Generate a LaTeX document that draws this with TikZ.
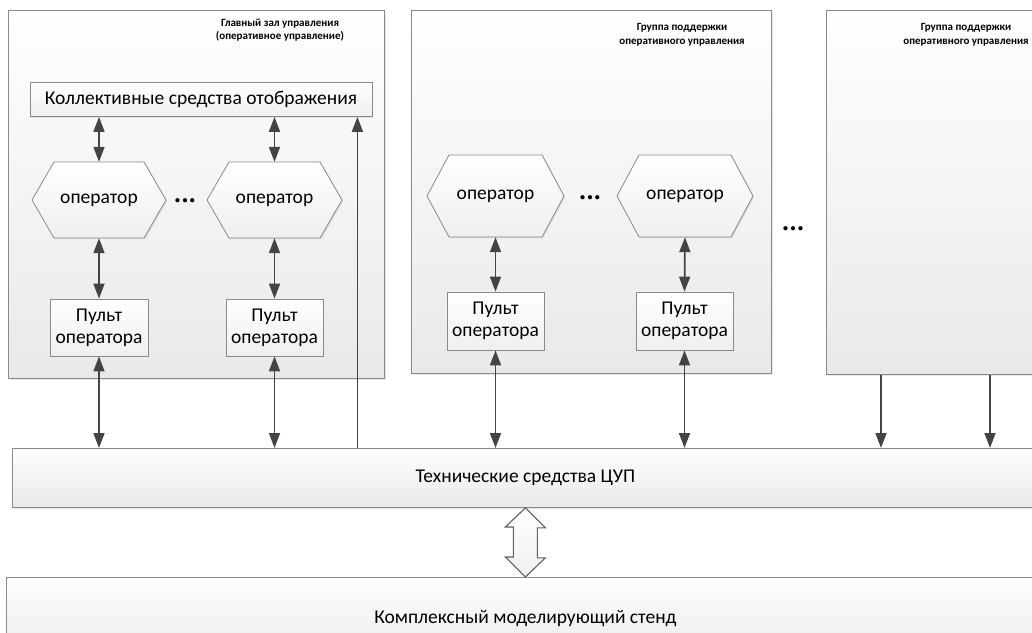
\documentclass[tikz,border=0pt]{standalone}
\usepackage{fontspec}
\setmainfont{Carlito}
\usetikzlibrary{arrows.meta,shadows,calc}

\definecolor{edge}{HTML}{8A8A8A}
\definecolor{ink}{HTML}{444444}
\definecolor{shadelo}{HTML}{E9E9E9}
\definecolor{shadein}{HTML}{EFEFEF}

% hexagon "operator" block: name, centre x, centre y, half width, half height
\newcommand\hexop[5]{%
  \path[hexfill] (#2-#4,#3) -- (#2-#4+22,#3-#5) -- (#2+#4-22,#3-#5)
    -- (#2+#4,#3) -- (#2+#4-22,#3+#5) -- (#2-#4+22,#3+#5) -- cycle;
  \node[optext, minimum width=2*#4, minimum height=2*#5] (#1) at (#2,#3) {оператор};}

\begin{document}
\begin{tikzpicture}[x=1pt,y=-1pt,
  panel/.style={draw=edge, line width=0.8pt, top color=white, bottom color=shadelo,
    inner sep=0pt, anchor=north west,
    drop shadow={shadow xshift=1.5pt, shadow yshift=-1.5pt, opacity=0.18}},
  box/.style={draw=edge, line width=0.8pt, top color=white, bottom color=shadein,
    inner sep=2pt, align=center, font=\fontsize{19.5}{22}\selectfont,
    drop shadow={shadow xshift=1.2pt, shadow yshift=-1.2pt, opacity=0.18}},
  hexfill/.style={draw=edge, line width=0.8pt, top color=white, bottom color=shadein,
    drop shadow={shadow xshift=1.2pt, shadow yshift=-1.2pt, opacity=0.18}},
  optext/.style={inner sep=0pt, font=\fontsize{19.5}{22}\selectfont},
  heading/.style={align=center, font=\bfseries\fontsize{11}{13.5}\selectfont},
  bigtext/.style={font=\fontsize{19.5}{22}\selectfont},
  more/.style={font=\bfseries\fontsize{10}{10}\selectfont, inner sep=0pt},
  dlink/.style={draw=ink, line width=1.7pt,
    {Triangle[length=15pt,width=11pt]}-{Triangle[length=15pt,width=11pt]}},
  slink/.style={draw=ink, line width=1.7pt, -{Triangle[length=15pt,width=11pt]}},
  hollow/.style={draw=ink!85, line width=1.1pt, top color=white, bottom color=shadein}
]
\useasboundingbox (0,0) rectangle (1032,632);
\clip (0,0) rectangle (1032,632);

% three rooms
\node[panel, minimum width=376, minimum height=368] (hall) at (8,10) {};
\node[panel, minimum width=360, minimum height=363] (grpA) at (411,10) {};
\node[panel, minimum width=230, minimum height=364] (grpB) at (826,10) {};

\node[heading] (hallT) at (280,30) {Главный зал управления\\(оперативное управление)};
\node[heading] (grpAT) at (682,35) {Группа поддержки\\оперативного управления};
\node[heading] (grpBT) at (966,35) {Группа поддержки\\оперативного управления};

% main hall
\node[box, minimum width=342, minimum height=34] (disp) at (201,99.5) {Коллективные средства отображения};
\hexop{op1}{99}{200}{67}{38}
\hexop{op2}{274.5}{200}{67.5}{38}
\node[more] (dotsA) at (185,201) {•\hspace{2.5pt}•\hspace{2.5pt}•};
\node[box, minimum width=98, minimum height=57] (pu1) at (99,327.5) {Пульт\\оператора};
\node[box, minimum width=97, minimum height=57] (pu2) at (274.5,327.5) {Пульт\\оператора};

% support group
\hexop{op3}{495.5}{196}{68.5}{41}
\hexop{op4}{685}{196}{68}{41}
\node[more] (dotsB) at (590,198) {•\hspace{2.5pt}•\hspace{2.5pt}•};
\node[box, minimum width=97, minimum height=58] (pu3) at (495.5,321) {Пульт\\оператора};
\node[box, minimum width=97, minimum height=58] (pu4) at (684.5,321) {Пульт\\оператора};

\node[more] (dotsC) at (793,229) {•\hspace{2.5pt}•\hspace{2.5pt}•};

% hardware and simulator
\node[panel, minimum width=1026, minimum height=59, bigtext] (tech) at (12,448) {Технические средства ЦУП};
\node[panel, minimum width=1038, minimum height=82, bigtext] (stand) at (6,577) {Комплексный моделирующий стенд};

% links
\draw[dlink] (disp.south -| op1.north) -- (op1.north);
\draw[dlink] (disp.south -| op2.north) -- (op2.north);
\draw[dlink] (op1.south) -- (pu1.north);
\draw[dlink] (op2.south) -- (pu2.north);
\draw[dlink] (pu1.south) -- (pu1.south |- tech.north);
\draw[dlink] (pu2.south) -- (pu2.south |- tech.north);
\draw[dlink] (op3.south) -- (pu3.north);
\draw[dlink] (op4.south) -- (pu4.north);
\draw[dlink] (pu3.south) -- (pu3.south |- tech.north);
\draw[dlink] (pu4.south) -- (pu4.south |- tech.north);

\path (disp.south east) ++(-15,0) coordinate (fb);
\draw[slink] (fb |- tech.north) -- (fb);

\path (grpB.south west) ++(55,0) coordinate (r1);
\path (grpB.south west) ++(164,0) coordinate (r2);
\draw[slink] (r1) -- (r1 |- tech.north);
\draw[slink] (r2) -- (r2 |- tech.north);

% wide two-way exchange arrow
\draw[hollow] (tech.south) -- ++(20,20) -- ++(-8,0) -- ++(0,30) -- ++(8,0)
  -- (stand.north) -- ++(-20,-20) -- ++(8,0) -- ++(0,-30) -- ++(-8,0) -- cycle;
\end{tikzpicture}
\end{document}
